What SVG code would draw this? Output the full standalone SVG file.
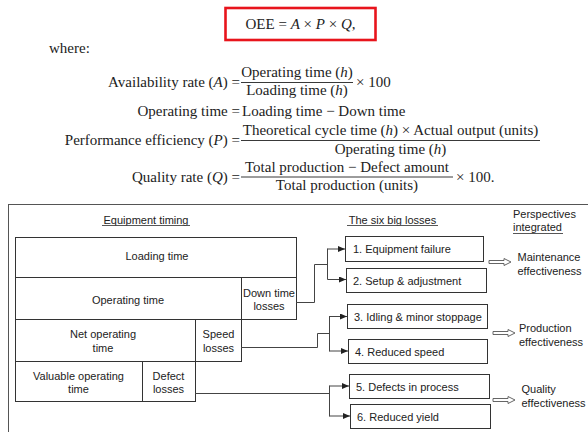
<svg xmlns="http://www.w3.org/2000/svg" xmlns:xlink="http://www.w3.org/1999/xlink" width="588" height="432" viewBox="0 0 588 432">
<style>
.f{font-family:"Liberation Serif","Times New Roman",serif;font-size:15px;fill:#222}
.i{font-style:italic}
.s{font-family:"Liberation Sans",Arial,sans-serif;font-size:11px;fill:#222}
.m{text-anchor:middle}
.e{text-anchor:end}
.box{fill:#fff;stroke:#333;stroke-width:1}
.cell{fill:none;stroke:#333;stroke-width:1}
.ln{fill:none;stroke:#444;stroke-width:1}
.ul{stroke:#444;stroke-width:0.9}
.frac{stroke:#222;stroke-width:0.9}
.ha{fill:#fff;stroke:#555;stroke-width:0.9}
</style>
<defs>
<marker id="ah" markerWidth="7" markerHeight="6" refX="7" refY="3" orient="auto" markerUnits="userSpaceOnUse">
<path d="M0,0 L7,3 L0,6 Z" fill="#222"/>
</marker>
<path id="harrow" class="ha" d="M0,-1.5 H15 V-3.5 L22,0 L15,3.5 V1.5 H0 Z"/>
</defs>
<rect width="588" height="432" fill="#fff"/>

<g id="formulas">
<rect x="225.5" y="8" width="150" height="32" fill="none" stroke="#e8141c" stroke-width="2.6"/>
<text class="f m" x="300.5" y="29">OEE = <tspan class="i">A</tspan> × <tspan class="i">P</tspan> × <tspan class="i">Q</tspan>,</text>
<text class="f" x="49" y="53">where:</text>

<text class="f e" x="240" y="87">Availability rate (<tspan class="i">A</tspan>) =</text>
<line class="frac" x1="241" y1="82.5" x2="353" y2="82.5"/>
<text class="f m" x="297" y="77">Operating time (<tspan class="i">h</tspan>)</text>
<text class="f m" x="297" y="95">Loading time (<tspan class="i">h</tspan>)</text>
<text class="f" x="356" y="87">× 100</text>

<text class="f e" x="240" y="116">Operating time =</text>
<text class="f" x="242" y="116">Loading time − Down time</text>

<text class="f e" x="240" y="145">Performance efficiency (<tspan class="i">P</tspan>) =</text>
<line class="frac" x1="241" y1="140.5" x2="540" y2="140.5"/>
<text class="f m" x="390.5" y="135">Theoretical cycle time (<tspan class="i">h</tspan>) × Actual output (units)</text>
<text class="f m" x="390.5" y="154">Operating time (<tspan class="i">h</tspan>)</text>

<text class="f e" x="240" y="182">Quality rate (<tspan class="i">Q</tspan>) =</text>
<line class="frac" x1="241" y1="177" x2="453" y2="177"/>
<text class="f m" x="347" y="172">Total production − Defect amount</text>
<text class="f m" x="347" y="190">Total production (units)</text>
<text class="f" x="456" y="182">× 100.</text>
</g>

<rect x="8.5" y="204.5" width="600" height="240" fill="none" stroke="#555" stroke-width="1"/>

<g id="headings">
<text class="s m" x="146" y="223.5">Equipment timing</text>
<line class="ul" x1="102" y1="225.5" x2="190" y2="225.5"/>
<text class="s m" x="392.5" y="223.5">The six big losses</text>
<line class="ul" x1="347" y1="225.5" x2="438" y2="225.5"/>
<text class="s" x="513" y="218">Perspectives</text>
<text class="s" x="513" y="231">integrated</text>
<line class="ul" x1="513" y1="233.5" x2="563" y2="233.5"/>
</g>

<g id="loading-time">
<rect class="cell" x="15.5" y="237.5" width="281" height="40"/>
<text class="s m" x="157" y="260">Loading time</text>
</g>
<g id="operating-time">
<rect class="cell" x="15.5" y="277.5" width="226" height="42"/>
<text class="s m" x="128" y="304">Operating time</text>
</g>
<g id="down-time-losses">
<rect class="cell" x="241.5" y="277.5" width="55" height="42"/>
<text class="s m" x="269" y="297">Down time</text>
<text class="s m" x="269" y="310">losses</text>
</g>
<g id="net-operating-time">
<rect class="cell" x="15.5" y="319.5" width="180" height="42"/>
<text class="s m" x="103" y="338">Net operating</text>
<text class="s m" x="103" y="352">time</text>
</g>
<g id="speed-losses">
<rect class="cell" x="195.5" y="319.5" width="46" height="42"/>
<text class="s m" x="218.5" y="338">Speed</text>
<text class="s m" x="218.5" y="352">losses</text>
</g>
<g id="valuable-operating-time">
<rect class="cell" x="15.5" y="361.5" width="127" height="40"/>
<text class="s m" x="78.5" y="379.5">Valuable operating</text>
<text class="s m" x="78.5" y="393">time</text>
</g>
<g id="defect-losses">
<rect class="cell" x="142.5" y="361.5" width="53" height="40"/>
<text class="s m" x="168.5" y="379.5">Defect</text>
<text class="s m" x="168.5" y="393">losses</text>
</g>

<g id="connectors">
<polyline class="ln" points="296,302.5 314.5,302.5 314.5,264.5 327.5,264.5"/>
<line class="ln" x1="327.5" y1="248.5" x2="327.5" y2="279.5"/>
<line class="ln" x1="327.5" y1="249" x2="345" y2="249" marker-end="url(#ah)"/>
<line class="ln" x1="327.5" y1="279.5" x2="346" y2="279.5" marker-end="url(#ah)"/>

<polyline class="ln" points="241,347.5 317.5,347.5 317.5,333.5 329.5,333.5"/>
<line class="ln" x1="329.5" y1="316" x2="329.5" y2="351.5"/>
<line class="ln" x1="329.5" y1="316.5" x2="347" y2="316.5" marker-end="url(#ah)"/>
<line class="ln" x1="329.5" y1="351" x2="348" y2="351" marker-end="url(#ah)"/>

<line class="ln" x1="195" y1="393.5" x2="329.5" y2="393.5"/>
<line class="ln" x1="329.5" y1="385.5" x2="329.5" y2="416.5"/>
<line class="ln" x1="329.5" y1="386" x2="349" y2="386" marker-end="url(#ah)"/>
<line class="ln" x1="329.5" y1="416" x2="350" y2="416" marker-end="url(#ah)"/>

<use xlink:href="#harrow" x="489" y="262"/>
<use xlink:href="#harrow" x="493" y="333"/>
<use xlink:href="#harrow" x="493" y="400"/>
</g>

<g id="loss-1">
<rect class="box" x="345.5" y="236.5" width="138" height="25"/>
<text class="s" x="353" y="253">1. Equipment failure</text>
</g>
<g id="loss-2">
<rect class="box" x="346.5" y="268.5" width="140" height="24"/>
<text class="s" x="353" y="284.5">2. Setup &amp; adjustment</text>
</g>
<g id="loss-3">
<rect class="box" x="347.5" y="304.5" width="140" height="24"/>
<text class="s" x="354" y="320.5">3. Idling &amp; minor stoppage</text>
</g>
<g id="loss-4">
<rect class="box" x="348.5" y="339.5" width="139" height="24"/>
<text class="s" x="355" y="355.5">4. Reduced speed</text>
</g>
<g id="loss-5">
<rect class="box" x="349.5" y="374.5" width="140" height="24"/>
<text class="s" x="356" y="390.5">5. Defects in process</text>
</g>
<g id="loss-6">
<rect class="box" x="350.5" y="404.5" width="140" height="24"/>
<text class="s" x="357" y="420.5">6. Reduced yield</text>
</g>

<g id="maintenance-effectiveness">
<text class="s" x="517.5" y="261">Maintenance</text>
<text class="s" x="517.5" y="275">effectiveness</text>
</g>
<g id="production-effectiveness">
<text class="s" x="519" y="332">Production</text>
<text class="s" x="519" y="346">effectiveness</text>
</g>
<g id="quality-effectiveness">
<text class="s" x="521.5" y="393">Quality</text>
<text class="s" x="521.5" y="407">effectiveness</text>
</g>
</svg>
